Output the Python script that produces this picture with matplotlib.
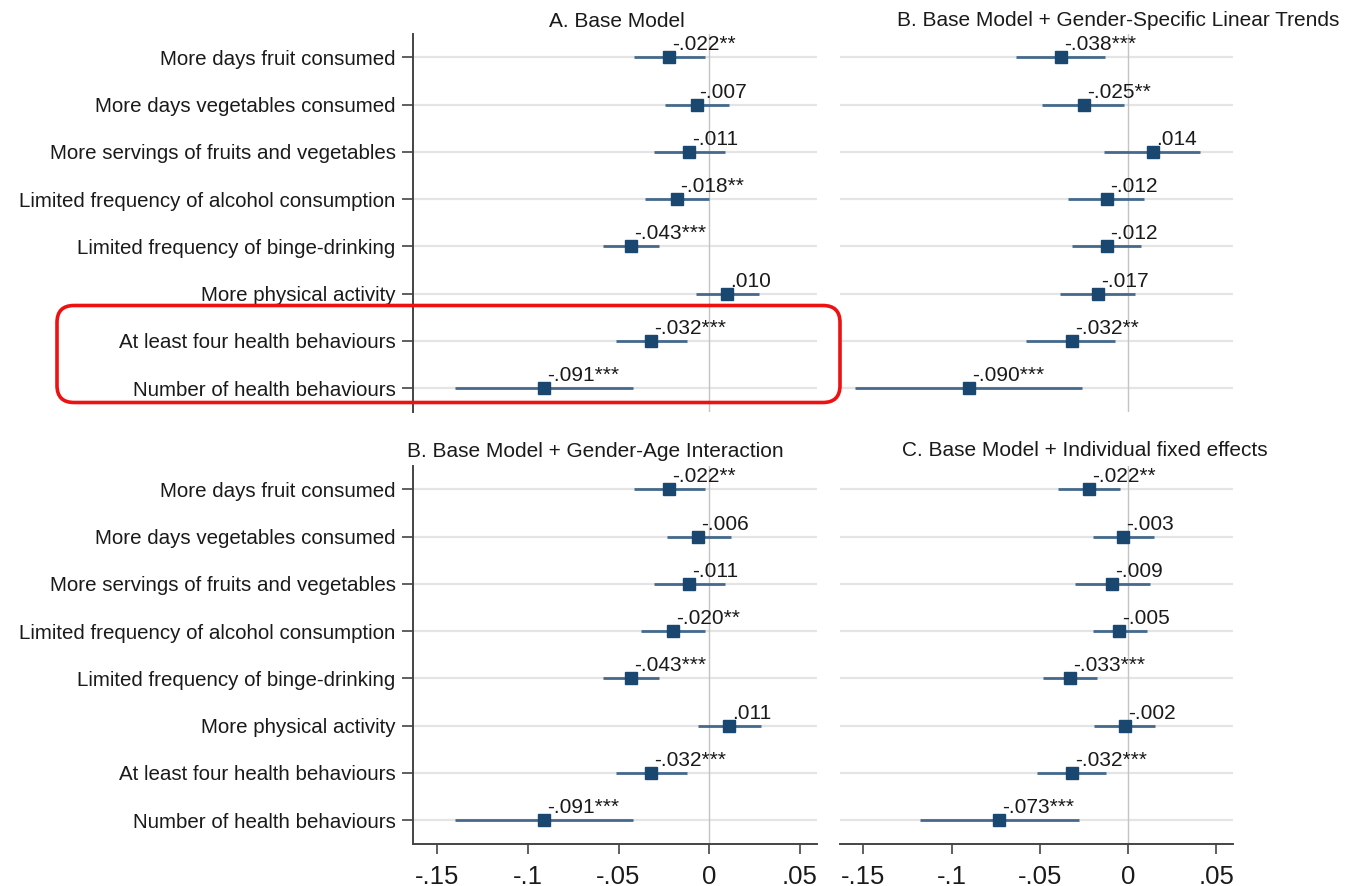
import numpy as np
import matplotlib
matplotlib.use("Agg")
import matplotlib.pyplot as plt
from matplotlib.patches import FancyBboxPatch

plt.rcParams["font.family"] = ["Liberation Sans", "DejaVu Sans"]

W, H = 1358, 886

labels = [
    "More days fruit consumed",
    "More days vegetables consumed",
    "More servings of fruits and vegetables",
    "Limited frequency of alcohol consumption",
    "Limited frequency of binge-drinking",
    "More physical activity",
    "At least four health behaviours",
    "Number of health behaviours",
]

# A. base model
base_coef = [-0.022, -0.007, -0.011, -0.018, -0.043, 0.010, -0.032, -0.091]
base_lo = [-0.0415, -0.0244, -0.0305, -0.0355, -0.0586, -0.0074, -0.0515, -0.140]
base_hi = [-0.0026, 0.0107, 0.0085, -0.0004, -0.0276, 0.0276, -0.0125, -0.0419]
base_text = ["-.022**", "-.007", "-.011", "-.018**", "-.043***", ".010", "-.032***", "-.091***"]

# B. gender-specific linear trends
trend_coef = [-0.038, -0.025, 0.014, -0.012, -0.012, -0.017, -0.032, -0.090]
trend_lo = [-0.0638, -0.0491, -0.0138, -0.034, -0.0321, -0.0389, -0.0578, -0.1548]
trend_hi = [-0.0132, -0.0025, 0.0406, 0.0087, 0.0072, 0.0038, -0.0072, -0.026]
trend_text = ["-.038***", "-.025**", ".014", "-.012", "-.012", "-.017", "-.032**", "-.090***"]

# B. gender-age interaction
age_coef = [-0.022, -0.006, -0.011, -0.020, -0.043, 0.011, -0.032, -0.091]
age_lo = [-0.0415, -0.0235, -0.0305, -0.0375, -0.0586, -0.0064, -0.0515, -0.140]
age_hi = [-0.0026, 0.0118, 0.0085, -0.0026, -0.0276, 0.0285, -0.0125, -0.0419]
age_text = ["-.022**", "-.006", "-.011", "-.020**", "-.043***", ".011", "-.032***", "-.091***"]

# C. individual fixed effects
fe_coef = [-0.022, -0.003, -0.009, -0.005, -0.033, -0.002, -0.032, -0.073]
fe_lo = [-0.0396, -0.0202, -0.0304, -0.0202, -0.0485, -0.0194, -0.0515, -0.118]
fe_hi = [-0.0047, 0.0145, 0.0123, 0.0104, -0.0176, 0.0153, -0.0126, -0.0281]
fe_text = ["-.022**", "-.003", "-.009", "-.005", "-.033***", "-.002", "-.032***", "-.073***"]

x_ticks = [-0.15, -0.1, -0.05, 0, 0.05]
x_tick_labels = ["-.15", "-.1", "-.05", "0", ".05"]

MARKER = "#1a476f"
CI = "#44698c"
GRID = "#e4e4e4"
TEXT = "#1a1a1a"


# axes box from pixel edges (left, top, right, bottom).
def add_axes_px(fig, left, top, right, bottom):
    return fig.add_axes([left / W, 1 - bottom / H, (right - left) / W, (bottom - top) / H])


# draw one coefficient panel.
def draw_panel(ax, coef, lo, hi, text, show_labels, show_xaxis):
    y = np.arange(1, len(coef) + 1)
    ax.set_xlim(-0.1633, 0.0594)
    ax.set_ylim(len(coef) + 0.5, 0.5)

    for yi in y:
        ax.axhline(yi, color=GRID, linewidth=1.6, zorder=0)
    ax.axvline(0, color="#c4c4c4", linewidth=1.0, zorder=1)

    ax.hlines(y, lo, hi, color=CI, linewidth=2.0, zorder=2)
    ax.plot(coef, y, "s", color=MARKER, markersize=8.6, zorder=3)

    for xi, yi, t in zip(coef, y, text):
        ax.annotate(t, (xi, yi), xytext=(2.2, 5), textcoords="offset points",
                    ha="left", va="baseline", fontsize=15, color=TEXT, zorder=4)

    for side in ["top", "right"]:
        ax.spines[side].set_visible(False)
    ax.spines["left"].set_visible(show_labels)
    ax.spines["bottom"].set_visible(show_xaxis)
    for side in ["left", "bottom"]:
        ax.spines[side].set_color("#444444")
        ax.spines[side].set_linewidth(1.4)

    if show_labels:
        ax.set_yticks(y)
        ax.set_yticklabels(labels, fontsize=14.8, color=TEXT)
        ax.tick_params(axis="y", length=8, width=1.2, color="#444444", pad=4.5)
    else:
        ax.set_yticks([])

    if show_xaxis:
        ax.set_xticks(x_ticks)
        ax.set_xticklabels(x_tick_labels, fontsize=18.5, color=TEXT)
        ax.tick_params(axis="x", length=7.5, width=1.2, color="#444444", pad=7.5)
    else:
        ax.set_xticks([])


fig = plt.figure(figsize=(W / 100, H / 100), dpi=100)

ax_a = add_axes_px(fig, 413, 33.7, 817, 411.9)
ax_b = add_axes_px(fig, 840, 33.7, 1233, 411.9)
ax_c = add_axes_px(fig, 413, 465.7, 817, 843.9)
ax_d = add_axes_px(fig, 840, 465.7, 1233, 843.9)

draw_panel(ax_a, base_coef, base_lo, base_hi, base_text, True, False)
draw_panel(ax_b, trend_coef, trend_lo, trend_hi, trend_text, False, False)
draw_panel(ax_c, age_coef, age_lo, age_hi, age_text, True, True)
draw_panel(ax_d, fe_coef, fe_lo, fe_hi, fe_text, False, True)

titles = [
    ("A. Base Model", 616.5, 27),
    ("B. Base Model + Gender-Specific Linear Trends", 1118, 26),
    ("B. Base Model + Gender-Age Interaction", 595.5, 457),
    ("C. Base Model + Individual fixed effects", 1085, 456),
]
for title, tx, ty in titles:
    fig.text(tx / W, 1 - ty / H, title, ha="center", va="baseline", fontsize=15, color=TEXT)

# red highlight box around the two summary rows of panel A
box = FancyBboxPatch((57 / 100, (H - 402.5) / 100), (840 - 57) / 100, (402.5 - 305.5) / 100,
                     boxstyle="round,pad=0,rounding_size=0.17",
                     transform=fig.dpi_scale_trans, fill=False,
                     edgecolor="#ee1111", linewidth=2.6, zorder=10)
fig.add_artist(box)

fig.savefig("out.png", dpi=100)
